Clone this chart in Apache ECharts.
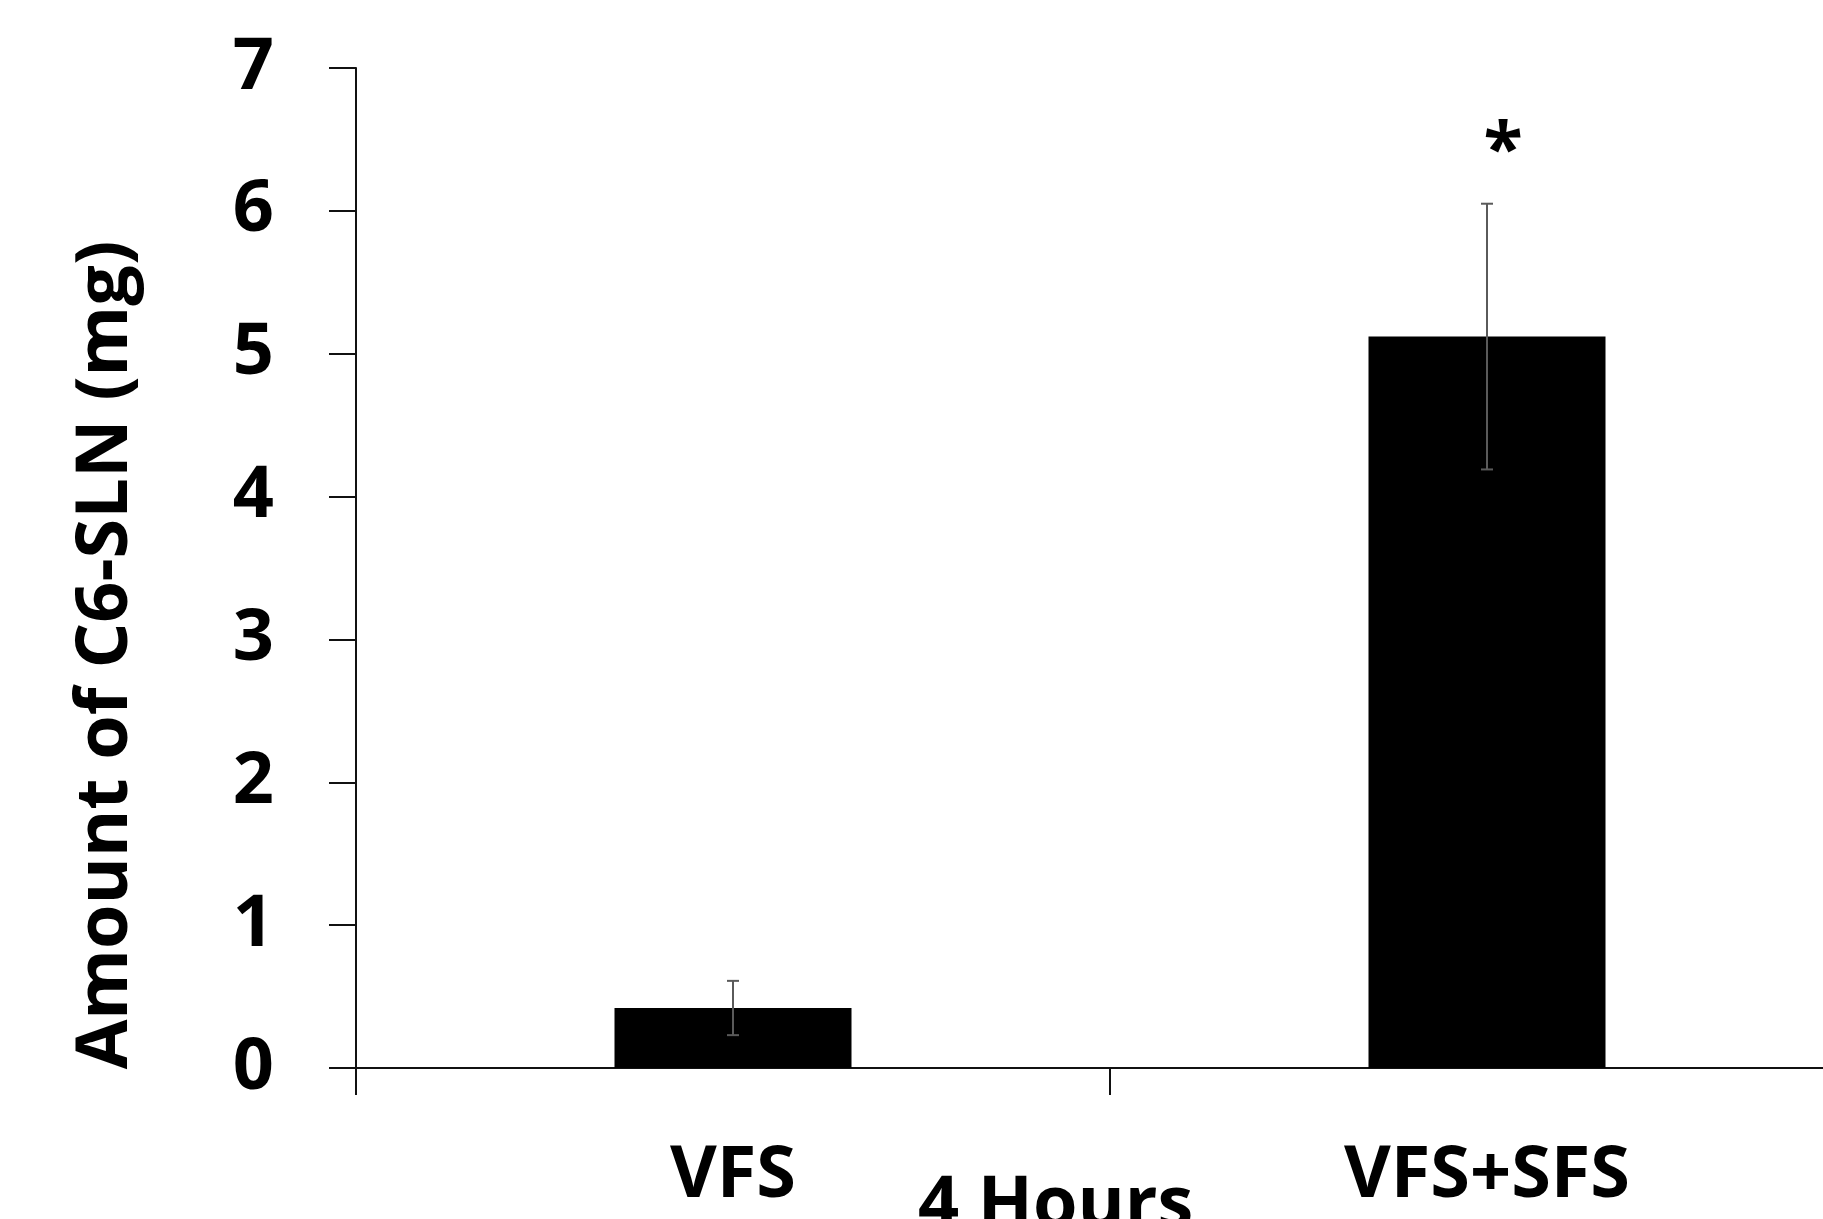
<!DOCTYPE html>
<html>
<head>
<meta charset="utf-8">
<script src="https://cdn.jsdelivr.net/npm/echarts@6/dist/echarts.min.js"></script>
<style>
  html, body { margin: 0; padding: 0; background: #ffffff; }
  #chart { width: 1823px; height: 1219px; }
</style>
</head>
<body>
<div id="chart"></div>
<script>
// Uptake of C6-SLN after 4 hours, mean ± error
const categories = ['VFS', 'VFS+SFS'];
const amounts = [0.42, 5.12];
const errors = [0.19, 0.93];
const significance = ['', '*'];
const yTitle = 'Amount of C6-SLN (mg)';
const xTitle = '4 Hours';

const FONT = 'Open Sans';
const chart = echarts.init(document.getElementById('chart'), null, { renderer: 'canvas' });

const errorData = categories.map((c, i) => [i, amounts[i] - errors[i], amounts[i] + errors[i]]);

chart.setOption({
  animation: false,
  backgroundColor: '#ffffff',
  title: {
    text: xTitle,
    left: 918,
    top: 1170,
    padding: 0,
    textStyle: { fontFamily: FONT, fontSize: 72, fontWeight: 'bold', color: '#000' }
  },
  graphic: [
    {
      type: 'text',
      x: 106,
      y: 655,
      rotation: Math.PI / 2,
      style: {
        text: yTitle,
        fontFamily: FONT,
        fontSize: 72,
        fontWeight: 'bold',
        fill: '#000',
        align: 'center',
        verticalAlign: 'middle'
      }
    }
  ],
  grid: {
    left: 356,
    right: -41,
    top: 68,
    bottom: 151,
    containLabel: false,
    outerBoundsMode: 'none'
  },
  xAxis: {
    type: 'category',
    data: categories,
    boundaryGap: true,
    axisLine: { show: true, lineStyle: { color: '#111', width: 2 } },
    axisTick: { show: true, inside: false, length: 27, alignWithLabel: false, lineStyle: { color: '#111', width: 2 } },
    axisLabel: { margin: 72, fontFamily: FONT, fontSize: 72, fontWeight: 'bold', color: '#000' },
    splitLine: { show: false }
  },
  yAxis: {
    type: 'value',
    min: 0,
    max: 7,
    interval: 1,
    axisLine: { show: true, lineStyle: { color: '#111', width: 2 } },
    axisTick: { show: true, inside: false, length: 27, lineStyle: { color: '#111', width: 2 } },
    axisLabel: { margin: 82, fontFamily: FONT, fontSize: 72, fontWeight: 'bold', color: '#000' },
    splitLine: { show: false }
  },
  series: [
    {
      type: 'bar',
      data: amounts,
      barWidth: 237,
      itemStyle: { color: '#000' },
      z: 2
    },
    {
      type: 'custom',
      data: errorData,
      z: 3,
      renderItem: function (params, api) {
        const x = api.value(0);
        const lo = api.coord([x, api.value(1)]);
        const hi = api.coord([x, api.value(2)]);
        const cap = 6;
        const style = { stroke: '#5a5a5a', lineWidth: 2 };
        const children = [
          { type: 'line', shape: { x1: hi[0], y1: hi[1], x2: lo[0], y2: lo[1] }, style },
          { type: 'line', shape: { x1: hi[0] - cap, y1: hi[1], x2: hi[0] + cap, y2: hi[1] }, style },
          { type: 'line', shape: { x1: lo[0] - cap, y1: lo[1], x2: lo[0] + cap, y2: lo[1] }, style }
        ];
        // significance marker above the error bar
        const mark = significance[params.dataIndex];
        if (mark) {
          children.push({
            type: 'text',
            x: hi[0] + 16,
            y: hi[1] - 50,
            style: {
              text: mark,
              fontFamily: FONT,
              fontSize: 72,
              fontWeight: 'bold',
              fill: '#000',
              align: 'center',
              verticalAlign: 'middle'
            }
          });
        }
        return { type: 'group', children };
      }
    }
  ]
});
</script>
</body>
</html>
